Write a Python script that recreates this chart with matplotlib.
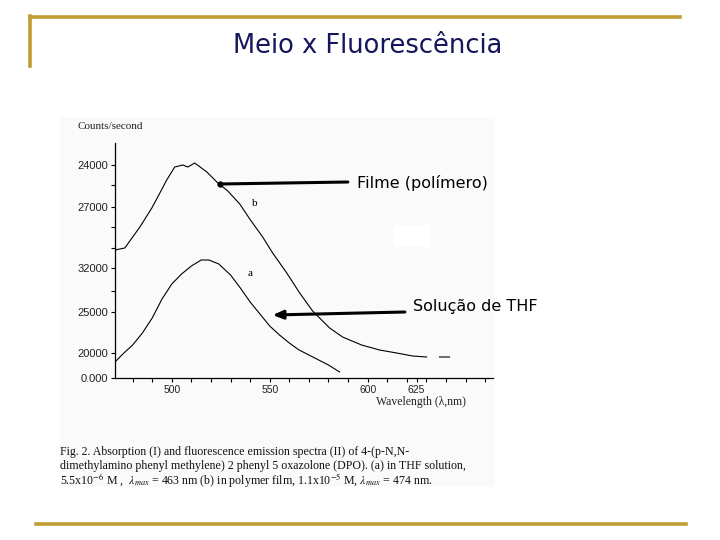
import matplotlib
matplotlib.use("Agg")
import matplotlib.pyplot as plt
import numpy as np
from matplotlib.patches import Rectangle
from matplotlib.lines import Line2D

plt.rcParams['mathtext.fontset'] = 'stix'

# ---------------- data ----------------
# curve b : film (polymer)
wl_b = [471, 476, 483.7, 489.8, 493.9, 497.4, 501.5, 505.6, 508.2, 511.7, 517.9,
        523.5, 528.6, 534.7, 539.8, 546.4, 551.5, 558.7, 565.3, 571.9, 580.6,
        587.2, 596.9, 606.1, 614.8, 623.0, 630.1, np.nan, 636.7, 641.8]
cnt_b = [128, 130, 151, 170, 185, 198, 211, 213, 211, 215, 206,
         195, 187, 174, 159, 141, 125, 105, 85, 67, 50,
         41, 33, 28, 25, 22, 21, np.nan, 21, 21]
# curve a : THF solution
wl_a = [471, 475, 480, 485, 490, 495, 500, 505, 510, 515, 519,
        524, 530, 535, 540, 545, 550, 555, 560, 565, 570,
        575, 580, 585.7]
cnt_a = [16, 24, 33, 45, 60, 79, 94, 104, 112, 118, 118,
         114, 103, 90, 76, 64, 52, 43, 35, 28, 23,
         18, 13, 6]

x_major = [500, 550, 600, 625]
x_major_labels = ['500', '550', '600', '625']
x_minor = [480, 490, 510, 520, 530, 540, 560, 570, 580, 590, 610, 620, 630, 640, 650, 660]
y_major = [0, 25, 66, 110, 171, 213]
y_major_labels = ['0.000', '20000', '25000', '32000', '27000', '24000']
y_minor = [87, 130, 151, 193]

title = 'Meio x Fluorescência'
label_film = 'Filme (polímero)'
label_thf = 'Solução de THF'
film_point = (524.5, 194)
film_text = (594.4, 195)
thf_point = (551.5, 63)
thf_text = (623.0, 72)
caption = ['Fig. 2. Absorption (I) and fluorescence emission spectra (II) of 4-(p-N,N-',
           'dimethylamino phenyl methylene) 2 phenyl 5 oxazolone (DPO). (a) in THF solution,',
           r'5.5x10$^{-6}$ M ,  $\lambda_{max}$ = 463 nm (b) in polymer film, 1.1x10$^{-5}$ M, $\lambda_{max}$ = 474 nm.']

# ---------------- figure ----------------
W, H = 720, 540
fig = plt.figure(figsize=(7.2, 5.4), dpi=100)
fig.patch.set_facecolor('white')

def fx(px):
    return px / W

def fy(py):
    return 1 - py / H

gold = '#C09E33'
# slide decoration
fig.add_artist(Line2D([fx(30), fx(680)], [fy(17), fy(17)], color=gold, lw=2.6, transform=fig.transFigure))
fig.add_artist(Line2D([fx(30), fx(30)], [fy(16), fy(66)], color=gold, lw=2.6, transform=fig.transFigure))
fig.add_artist(Line2D([fx(36), fx(686)], [fy(524), fy(524)], color=gold, lw=2.6, transform=fig.transFigure))

fig.text(fx(368), fy(46), title, ha='center', va='center', fontsize=18.5,
         color='#16165c', family='DejaVu Sans')

# scanned panel background
fig.add_artist(Rectangle((fx(60), fy(487)), (495 - 60) / W, (487 - 117) / H,
                         transform=fig.transFigure, facecolor='#fafafa',
                         edgecolor='none', zorder=0))
fig.add_artist(Rectangle((fx(393), fy(247)), (430 - 393) / W, (247 - 225) / H,
                         transform=fig.transFigure, facecolor='white',
                         edgecolor='none', zorder=0.5))

ax = fig.add_axes([fx(115), fy(378), (493 - 115) / W, (378 - 143) / H])
ax.set_facecolor('none')
ax.plot(wl_b, cnt_b, color='black', lw=0.8)
ax.plot(wl_a, cnt_a, color='black', lw=0.8)
ax.set_xlim(471, 664)
ax.set_ylim(0, 235)
for s in ['top', 'right']:
    ax.spines[s].set_visible(False)
for s in ['left', 'bottom']:
    ax.spines[s].set_linewidth(0.9)
ax.set_xticks(x_major)
ax.set_xticklabels(x_major_labels)
ax.set_xticks(x_minor, minor=True)
ax.set_yticks(y_major)
ax.set_yticklabels(y_major_labels)
ax.set_yticks(y_minor, minor=True)
ax.tick_params(which='both', direction='out', length=3, width=0.8, pad=2)
ax.tick_params(axis='x', labelsize=7.5)
ax.tick_params(axis='y', labelsize=8)
for lab in ax.get_xticklabels() + ax.get_yticklabels():
    lab.set_family('Liberation Sans')
    lab.set_color('#222222')

ax.text(542.3, 174, 'b', fontsize=8, family='Liberation Serif', ha='center', va='center')
ax.text(539.8, 105, 'a', fontsize=8, family='Liberation Serif', ha='center', va='center')

# annotations
ax.annotate('', xy=film_point, xytext=(film_text[0] - 4.5, film_text[1] + 1),
            arrowprops=dict(arrowstyle='-', lw=2.2, color='black', shrinkA=0, shrinkB=0),
            annotation_clip=False)
ax.plot([film_point[0]], [film_point[1]], 'o', color='black', ms=3.5, clip_on=False)
ax.text(film_text[0], film_text[1], label_film, fontsize=11.5, family='DejaVu Sans',
        ha='left', va='center', clip_on=False)
ax.annotate('', xy=thf_point, xytext=(thf_text[0] - 4, thf_text[1] - 6),
            arrowprops=dict(arrowstyle='-|>,head_length=0.6,head_width=0.25', lw=2.2,
                            color='black', shrinkA=0, shrinkB=0),
            annotation_clip=False)
ax.text(thf_text[0], thf_text[1], label_thf, fontsize=11.5, family='DejaVu Sans',
        ha='left', va='center', clip_on=False)

# axis captions of the scanned chart
fig.text(fx(77), fy(126), 'Counts/second', fontsize=8, family='Liberation Serif',
         ha='left', va='center', color='#222222')
fig.text(fx(421), fy(402), 'Wavelength (\u03bb,nm)', fontsize=8.5, family='Liberation Serif',
         ha='center', va='center', color='#222222')

for i, line in enumerate(caption):
    fig.text(fx(60), fy(452 + 14 * i), line, fontsize=8.6, family='Liberation Serif',
             ha='left', va='center', color='#111111')

fig.savefig('out.png', dpi=100)
